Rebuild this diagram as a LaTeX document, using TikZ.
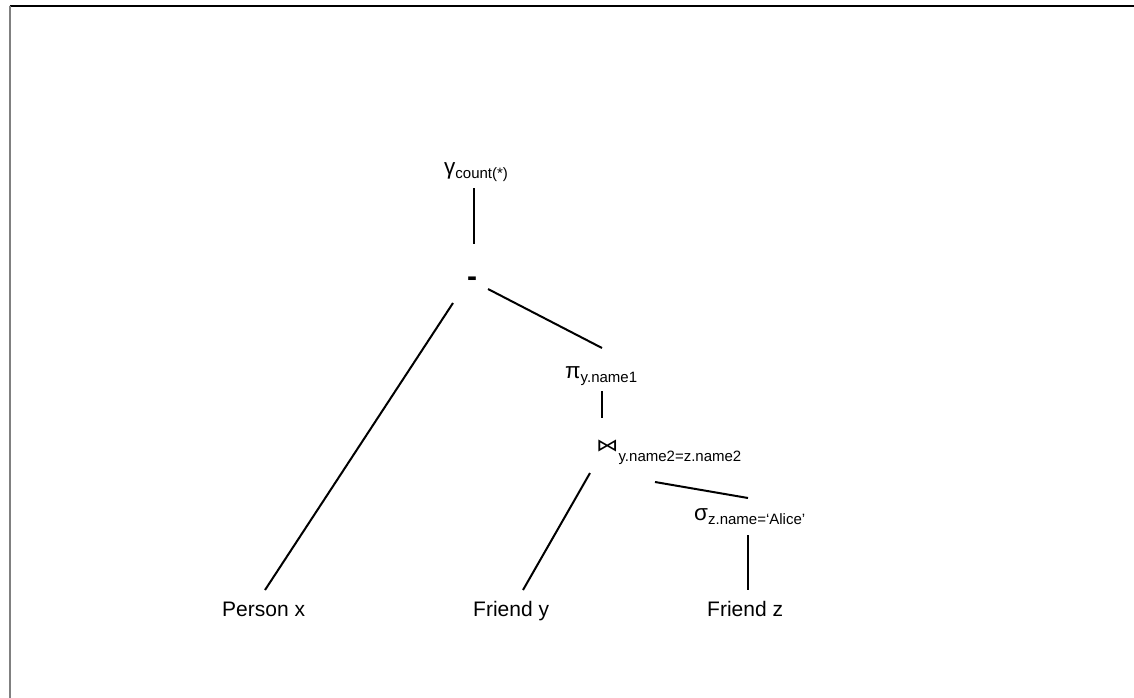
\documentclass[tikz,border=0pt]{standalone}
\usepackage{fontspec}
\setmainfont{Liberation Sans}
\newfontfamily\djv{DejaVu Sans}
\newcommand\sbx[1]{\raisebox{-4pt}{\fontsize{15}{15}\selectfont #1}}
\begin{document}
\begin{tikzpicture}[x=1pt,y=-1pt,
  edge/.style={line width=2pt},
  lbl/.style={inner sep=0pt, anchor=base west, font=\fontsize{21}{21}\selectfont},
  op/.style={inner sep=0pt, anchor=base west, font=\fontsize{22.5}{22}\selectfont}]
\useasboundingbox (0,0) rectangle (1134,698);
\coordinate (tl) at (9.5,6);
\coordinate (tr) at (1134,6);
\coordinate (bl) at (9.5,698);
\draw[line width=2pt] (tl) -- (tr);
\draw[line width=2pt, gray] (tl) -- (bl);

\node[op] (g) at (444,174) {γ\sbx{count(*)}};
\node[inner sep=0pt, font=\bfseries\fontsize{30}{30}\selectfont] (m) at (472,282) {-};
\node[op] (p) at (565,378) {π\sbx{y.name1}};
\node[lbl] (j) at (596,451) {{\djv\fontsize{16}{16}\selectfont\scalebox{1.4}[1.1]{⋈}}\raisebox{-10pt}{\fontsize{15}{15}\selectfont y.name2=z.name2}};
\node[op] (s) at (694,520) {σ\sbx{z.name=‘Alice’}};
\node[lbl] (px) at (222,616) {Person x};
\node[lbl] (fy) at (473,616) {Friend y};
\node[lbl] (fz) at (707,616) {Friend z};

\coordinate (g-o) at (474,188);
\coordinate (m-i) at (474,244);
\coordinate (m-r) at (488,289);
\coordinate (p-i) at (602,348);
\coordinate (m-l) at (453,303);
\coordinate (px-i) at (265,590);
\coordinate (p-o) at (602,391);
\coordinate (j-i) at (602,418);
\coordinate (j-l) at (590,473);
\coordinate (fy-i) at (523,590);
\coordinate (j-r) at (655,482);
\coordinate (s-i) at (748,498);
\coordinate (s-o) at (748,535);
\coordinate (fz-i) at (748,590);
\draw[edge] (g-o) -- (m-i);
\draw[edge] (m-r) -- (p-i);
\draw[edge] (m-l) -- (px-i);
\draw[edge] (p-o) -- (j-i);
\draw[edge] (j-l) -- (fy-i);
\draw[edge] (j-r) -- (s-i);
\draw[edge] (s-o) -- (fz-i);
\end{tikzpicture}
\end{document}
